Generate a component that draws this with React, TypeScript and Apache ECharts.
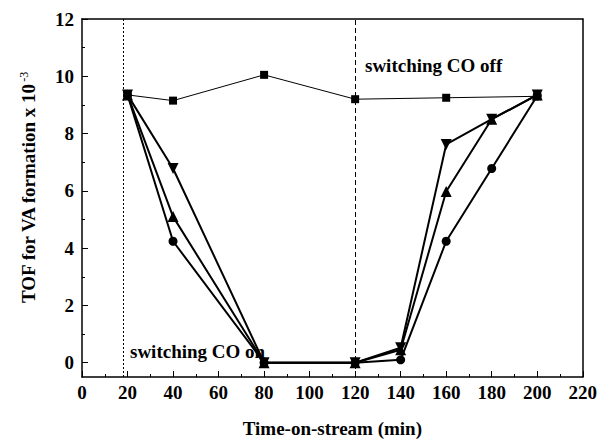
import React, { useEffect, useRef } from "react";
import * as echarts from "echarts";

const xValues = [20, 40, 80, 120, 140, 160, 180, 200];
const squareX = [20, 40, 80, 120, 160, 200];
const squareY = [9.35, 9.15, 10.05, 9.2, 9.25, 9.3];
const downTriY = [9.35, 6.78, 0, 0, 0.52, 7.62, 8.5, 9.35];
const upTriY = [9.35, 5.1, 0, 0, 0.45, 5.98, 8.5, 9.35];
const circleY = [9.35, 4.24, 0, 0, 0.1, 4.24, 6.78, 9.32];
const yMajorTicks = [0, 2, 4, 6, 8, 10, 12];
const yMinorTicks = [1, 3, 5, 7, 9, 11];
const switchOnX = 18;
const switchOffX = 120;

const FONT = "'Liberation Serif', 'Times New Roman', serif";
const FS = 19;

export default function App() {
  const ref = useRef<HTMLDivElement>(null);
  useEffect(() => {
    document.body.style.margin = "0";
    if (!ref.current) return;
    const chart = echarts.init(ref.current, undefined, { renderer: "svg" });
    const pair = (xs: number[], ys: number[]) => xs.map((x, i) => [x, ys[i]]);
    const lineSeries = (name: string, data: number[][], symbol: string, size: number, width: number, rotate = 0) => ({
      name,
      type: "line",
      data,
      symbol,
      symbolSize: size,
      symbolRotate: rotate,
      showSymbol: true,
      lineStyle: { color: "#000", width },
      itemStyle: { color: "#000" },
      z: 3,
    });
    chart.setOption({
      animation: false,
      backgroundColor: "#fff",
      grid: { left: 82, right: 15, top: 19, bottom: 60, containLabel: false },
      xAxis: [
        {
          type: "value",
          min: 0,
          max: 220,
          interval: 20,
          name: "Time-on-stream (min)",
          nameLocation: "middle",
          nameGap: 42,
          nameTextStyle: { fontFamily: FONT, fontWeight: "bold", fontSize: FS, color: "#000" },
          axisLine: { show: true, onZero: false, lineStyle: { color: "#000", width: 1.5 } },
          axisTick: { show: true, inside: true, length: 6, lineStyle: { color: "#000" } },
          minorTick: { show: true, splitNumber: 2, length: 3, lineStyle: { color: "#000" } },
          splitLine: { show: false },
          axisLabel: { fontFamily: FONT, fontWeight: "bold", fontSize: FS, color: "#000", margin: 6 },
        },
        {
          type: "value",
          position: "top",
          min: 0,
          max: 220,
          axisLine: { show: true, onZero: false, lineStyle: { color: "#000", width: 1.5 } },
          axisTick: { show: false },
          axisLabel: { show: false },
          splitLine: { show: false },
        },
      ],
      yAxis: [
        {
          type: "value",
          min: -0.5,
          max: 12,
          name: "{a|TOF for VA formation x 10}{b|-3}",
          nameLocation: "middle",
          nameGap: 44,
          nameRotate: 90,
          nameTextStyle: {
            padding: [0, 0, 0, 20],
            rich: {
              a: { fontFamily: FONT, fontWeight: "bold", fontSize: FS, color: "#000" },
              b: { fontFamily: FONT, fontSize: 12, color: "#000", verticalAlign: "top", padding: [0, 0, 8, 1] },
            },
          },
          axisLine: { show: true, onZero: false, lineStyle: { color: "#000", width: 1.5 } },
          axisTick: { show: true, inside: true, length: 6, customValues: yMajorTicks, lineStyle: { color: "#000" } },
          axisLabel: { customValues: yMajorTicks, fontFamily: FONT, fontWeight: "bold", fontSize: FS, color: "#000", margin: 8 },
          splitLine: { show: false },
        },
        {
          type: "value",
          position: "left",
          min: -0.5,
          max: 12,
          axisLine: { show: false },
          axisTick: { show: true, inside: true, length: 3, customValues: yMinorTicks, lineStyle: { color: "#000" } },
          axisLabel: { show: false },
          splitLine: { show: false },
        },
        {
          type: "value",
          position: "right",
          min: -0.5,
          max: 12,
          axisLine: { show: true, onZero: false, lineStyle: { color: "#000", width: 1.5 } },
          axisTick: { show: false },
          axisLabel: { show: false },
          splitLine: { show: false },
        },
      ],
      series: [
        {
          ...lineSeries("square", pair(squareX, squareY), "rect", 8, 1),
          markLine: {
            silent: true,
            symbol: "none",
            label: { show: false },
            data: [
              { xAxis: switchOnX, lineStyle: { color: "#000", width: 1, type: [2, 2] } },
              { xAxis: switchOffX, lineStyle: { color: "#000", width: 1, type: [5, 3] } },
            ],
          },
        },
        lineSeries("down", pair(xValues, downTriY), "triangle", 11, 2, 180),
        lineSeries("up", pair(xValues, upTriY), "triangle", 11, 2),
        lineSeries("circle", pair(xValues, circleY), "circle", 9, 2),
      ],
      graphic: [
        {
          type: "text",
          left: 130,
          top: 342,
          style: { text: "switching CO on", fontFamily: FONT, fontWeight: "bold", fontSize: FS, fill: "#000" },
          z: 10,
        },
        {
          type: "text",
          left: 365,
          top: 56,
          style: { text: "switching CO off", fontFamily: FONT, fontWeight: "bold", fontSize: FS, fill: "#000" },
          z: 10,
        },
      ],
    });
    return () => chart.dispose();
  }, []);
  return <div ref={ref} style={{ width: 600, height: 443 }} />;
}
